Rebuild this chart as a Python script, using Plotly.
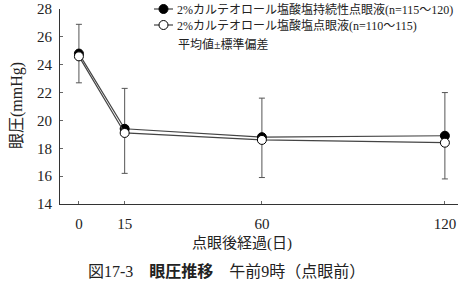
import plotly.graph_objects as go

days = [0, 15, 60, 120]
tick_labels = ["0", "15", "60", "120"]
sustained_mean = [24.8, 19.4, 18.8, 18.9]
sustained_sd = [2.1, 2.9, 2.8, 3.1]
standard_mean = [24.6, 19.1, 18.6, 18.4]
standard_sd = [1.9, 2.9, 2.7, 2.6]
y_ticks = [14, 16, 18, 20, 22, 24, 26, 28]

name1 = "2%カルテオロール塩酸塩持続性点眼液(n=115～120)"
name2 = "2%カルテオロール塩酸塩点眼液(n=110～115)"

FONT = "Liberation Serif, Noto Sans CJK JP, serif"
W, H = 460, 284
L, R, T, B = 60, 2, 9, 80

fig = go.Figure()
fig.add_trace(go.Scatter(
    x=days, y=sustained_mean, name=name1, mode="lines+markers",
    line=dict(color="#444444", width=1.2),
    marker=dict(symbol="circle", size=9, color="black", line=dict(color="black", width=1)),
    error_y=dict(type="data", array=sustained_sd, arrayminus=[0]*4, symmetric=False,
                 color="#555555", thickness=1, width=3),
))
fig.add_trace(go.Scatter(
    x=days, y=standard_mean, name=name2, mode="lines+markers",
    line=dict(color="#444444", width=1.2),
    marker=dict(symbol="circle", size=9, color="white", line=dict(color="black", width=1)),
    error_y=dict(type="data", array=[0]*4, arrayminus=standard_sd, symmetric=False,
                 color="#555555", thickness=1, width=3),
))

def px_x(p):
    return (p - L) / (W - L - R)

def px_y(p):
    return 1 - (p - T) / (H - T - B)

# manual legend keys (decoration, paper coordinates)
shapes = []
annos = []
for row_y, fill, label in [(9, "black", name1), (25, "white", name2)]:
    shapes.append(dict(type="line", xref="paper", yref="paper",
                       x0=px_x(154), x1=px_x(173), y0=px_y(row_y), y1=px_y(row_y),
                       line=dict(color="#444444", width=1.2)))
    shapes.append(dict(type="circle", xref="paper", yref="paper",
                       x0=px_x(159), x1=px_x(168), y0=px_y(row_y + 4.5), y1=px_y(row_y - 4.5),
                       fillcolor=fill, line=dict(color="black", width=1)))
    annos.append(dict(text=label, xref="paper", yref="paper",
                      x=px_x(175), y=px_y(row_y), xanchor="left", yanchor="middle",
                      showarrow=False, font=dict(size=12, family=FONT)))

fig.update_layout(
    width=W, height=H,
    margin=dict(l=L, r=R, t=T, b=B),
    paper_bgcolor="white", plot_bgcolor="white",
    font=dict(family=FONT, size=15, color="#222222"),
    showlegend=False,
    shapes=shapes,
    xaxis=dict(
        range=[-6.2, 124.3], tickvals=days, ticktext=tick_labels,
        showline=True, linecolor="#333333", linewidth=1,
        ticks="inside", ticklen=3, tickcolor="#666666",
        showgrid=False, zeroline=False, ticklabelstandoff=6,
    ),
    yaxis=dict(
        range=[14, 28], tickvals=y_ticks,
        showline=True, linecolor="#333333", linewidth=1,
        ticks="inside", ticklen=3, tickcolor="#666666",
        showgrid=False, zeroline=False, ticklabelstandoff=4,
    ),
    annotations=annos + [
        dict(text="平均値±標準偏差", xref="paper", yref="paper",
             x=px_x(176), y=px_y(44), xanchor="left", yanchor="middle",
             showarrow=False, font=dict(size=12, family=FONT)),
        dict(text="点眼後経過(日)", xref="paper", yref="paper",
             x=px_x(242), y=px_y(243), xanchor="center", yanchor="middle",
             showarrow=False, font=dict(size=15, family=FONT)),
        dict(text="眼圧(mmHg)", xref="paper", yref="paper",
             x=px_x(17), y=px_y(106), xanchor="center", yanchor="middle",
             textangle=-90, showarrow=False, font=dict(size=16, family=FONT)),
        dict(text="図17-3　<b>眼圧推移</b>　午前9時（点眼前）", xref="paper", yref="paper",
             x=px_x(226), y=px_y(271), xanchor="center", yanchor="middle",
             showarrow=False, font=dict(size=16, family=FONT)),
    ],
)

fig.write_html("out.html")
